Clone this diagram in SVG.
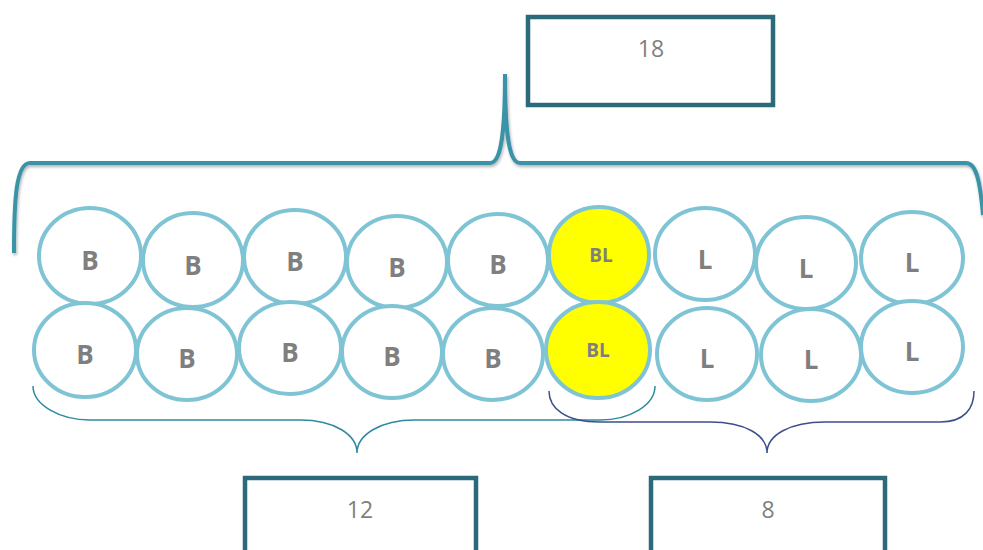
<svg xmlns="http://www.w3.org/2000/svg" width="983" height="550" viewBox="0 0 983 550">
<defs>
<filter id="sh" x="-5%" y="-20%" width="110%" height="140%">
<feDropShadow dx="1" dy="2" stdDeviation="1.5" flood-color="#000" flood-opacity="0.3"/>
</filter>
</defs>
<style>
.box{fill:#fff;stroke:#2a6a7a;stroke-width:4.5}
.num{font-family:"Open Sans","Liberation Sans",sans-serif;font-size:23px;fill:#7f7f7f;text-anchor:middle}
.c{fill:#fff;stroke:#7fc4d5;stroke-width:4}
.y{fill:#ffff00;stroke:#7fc4d5;stroke-width:4}
.t{font-family:"Open Sans","Liberation Sans",sans-serif;font-weight:bold;font-size:26px;fill:#7f7f7f;text-anchor:middle}
.ts{font-family:"Open Sans","Liberation Sans",sans-serif;font-weight:bold;font-size:19px;fill:#7f7f7f;text-anchor:middle}
</style>
<rect width="983" height="550" fill="#fff"/>
<g id="connectors" fill="none">
<path d="M14,253 C14,200 16,163 30,163 L490,163 C500,163 505,140 505,74 C505,140 510,163 520,163 L966,163 C976,163 980,180 983,215" stroke="#3a93a8" stroke-width="4" filter="url(#sh)"/>
<path d="M33,386 C33,405 60,420 90,420 L300,420 C335,420 357,435 357,453 C357,435 380,420 415,420 L600,420 C630,420 655,405 655,386" stroke="#2e8aa0" stroke-width="1.5"/>
<path d="M549,391 C549,408 565,422 600,422 L710,422 C745,422 767,435 767,453 C767,435 790,422 825,422 L940,422 C965,422 974,408 974,391" stroke="#3d4f8a" stroke-width="1.5"/>
</g>
<g id="box18"><rect class="box" x="528" y="17" width="245" height="88"/><text class="num" x="651" y="57">18</text></g>
<g id="box12"><rect class="box" x="245" y="478" width="231" height="80"/><text class="num" x="360" y="518">12</text></g>
<g id="box8"><rect class="box" x="651" y="478" width="234" height="80"/><text class="num" x="768" y="518">8</text></g>
<g id="n1"><ellipse class="c" cx="90" cy="256" rx="51" ry="48"/><text class="t" x="90" y="270">B</text></g>
<g id="n2"><ellipse class="c" cx="193" cy="260" rx="50" ry="47"/><text class="t" x="193" y="275">B</text></g>
<g id="n3"><ellipse class="c" cx="295" cy="257" rx="51" ry="47"/><text class="t" x="295" y="271">B</text></g>
<g id="n4"><ellipse class="c" cx="397" cy="262" rx="50" ry="46"/><text class="t" x="397" y="277">B</text></g>
<g id="n5"><ellipse class="c" cx="498" cy="260" rx="50" ry="46"/><text class="t" x="498" y="274">B</text></g>
<g id="n6"><ellipse class="y" cx="599" cy="255" rx="50" ry="48"/><text class="ts" x="601" y="262">BL</text></g>
<g id="n7"><ellipse class="c" cx="705" cy="254" rx="50" ry="46"/><text class="t" x="705" y="269">L</text></g>
<g id="n8"><ellipse class="c" cx="806" cy="263" rx="50" ry="46"/><text class="t" x="806" y="278">L</text></g>
<g id="n9"><ellipse class="c" cx="912" cy="258" rx="51" ry="46"/><text class="t" x="912" y="272">L</text></g>
<g id="n10"><ellipse class="c" cx="85" cy="350" rx="51" ry="47"/><text class="t" x="85" y="364">B</text></g>
<g id="n11"><ellipse class="c" cx="187" cy="354" rx="50" ry="46"/><text class="t" x="187" y="368">B</text></g>
<g id="n12"><ellipse class="c" cx="290" cy="348" rx="51" ry="46"/><text class="t" x="290" y="362">B</text></g>
<g id="n13"><ellipse class="c" cx="392" cy="352" rx="50" ry="46"/><text class="t" x="392" y="366">B</text></g>
<g id="n14"><ellipse class="c" cx="493" cy="354" rx="50" ry="46"/><text class="t" x="493" y="368">B</text></g>
<g id="n15"><ellipse class="y" cx="598" cy="350" rx="52" ry="48"/><text class="ts" x="598" y="357">BL</text></g>
<g id="n16"><ellipse class="c" cx="707" cy="354" rx="50" ry="46"/><text class="t" x="707" y="368">L</text></g>
<g id="n17"><ellipse class="c" cx="811" cy="355" rx="50" ry="46"/><text class="t" x="811" y="369">L</text></g>
<g id="n18"><ellipse class="c" cx="912" cy="347" rx="51" ry="46"/><text class="t" x="912" y="361">L</text></g>
</svg>
